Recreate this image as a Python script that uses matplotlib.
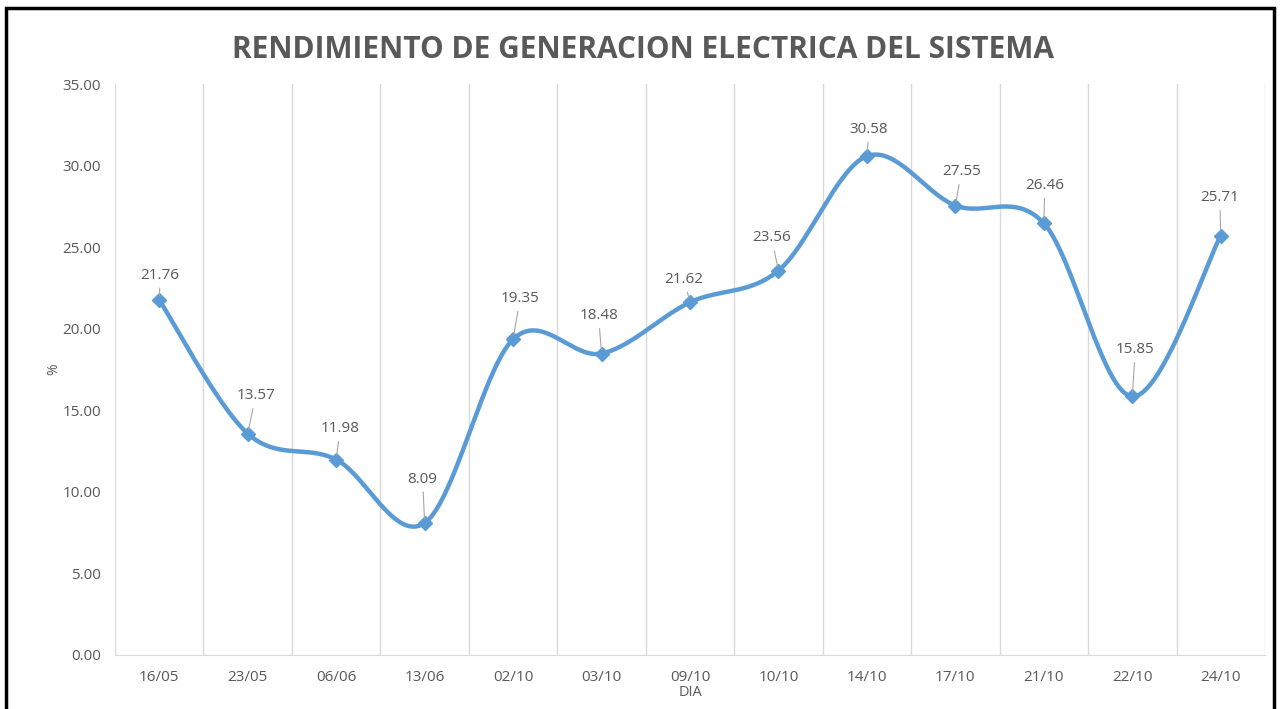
import numpy as np
import matplotlib
matplotlib.use("Agg")
import matplotlib.pyplot as plt
from matplotlib.patches import Rectangle

categories = ["16/05", "23/05", "06/06", "13/06", "02/10", "03/10", "09/10",
              "10/10", "14/10", "17/10", "21/10", "22/10", "24/10"]
values = [21.76, 13.57, 11.98, 8.09, 19.35, 18.48, 21.62,
          23.56, 30.58, 27.55, 26.46, 15.85, 25.71]
yticks = [0, 5, 10, 15, 20, 25, 30, 35]
title = "RENDIMIENTO DE GENERACION ELECTRICA DEL SISTEMA"
# label offsets in pixels (dx, dy) from each point (label centre)
label_offsets = [(1, 25), (8, 38), (4, 31), (-2, 44), (7, 41), (-3, 38), (-6, 23),
                 (-7, 33), (2, 27), (6, 34), (1, 38), (3, 47), (-1, 38)]

plt.rcParams['font.family'] = ['Open Sans', 'DejaVu Sans']

fig = plt.figure(figsize=(12.8, 7.09), dpi=100)
ax = fig.add_axes([115/1280, 1-655/709, 1150/1280, (655-84)/709])

x = np.arange(len(values))
y = np.array(values, dtype=float)

# Excel-style smoothed line (Catmull-Rom bezier segments)
def smooth(xp, yp, n=40):
    P = np.column_stack([xp, yp])
    Pext = np.vstack([P[0], P, P[-1]])
    out = []
    for i in range(len(P) - 1):
        p0, p1, p2, p3 = Pext[i], Pext[i+1], Pext[i+2], Pext[i+3]
        c1 = p1 + (p2 - p0) / 6.0
        c2 = p2 - (p3 - p1) / 6.0
        t = np.linspace(0, 1, n)[:, None]
        seg = ((1-t)**3)*p1 + 3*((1-t)**2)*t*c1 + 3*(1-t)*t**2*c2 + t**3*p2
        out.append(seg if i == 0 else seg[1:])
    s = np.vstack(out)
    return s[:, 0], s[:, 1]

sx, sy = smooth(x.astype(float), y)
line_color = "#5B9BD5"
ax.plot(sx, sy, color=line_color, lw=3.2, solid_capstyle='round', zorder=3)
ax.plot(x, y, linestyle='none', marker='D', markersize=7, color=line_color, zorder=4)

for xi, yi, (dx, dy) in zip(x, y, label_offsets):
    ax.annotate(f"{yi:.2f}", xy=(xi, yi), xytext=(dx, dy), textcoords='offset pixels',
                ha='center', va='center', fontsize=11, color="#595959",
                arrowprops=dict(arrowstyle='-', color='#a6a6a6', lw=0.8,
                                shrinkA=2, shrinkB=3),
                zorder=5)

ax.set_xlim(-0.5, len(values) - 0.5)
ax.set_ylim(0, 35)
ax.set_yticks(yticks)
ax.set_yticklabels([f"{v:.2f}" for v in yticks])
ax.set_xticks(x)
ax.set_xticklabels(categories)
ax.set_xticks(np.arange(len(values) + 1) - 0.5, minor=True)
ax.grid(True, which='minor', axis='x', color='#d9d9d9', lw=1)
ax.tick_params(which='both', length=0)
ax.tick_params(axis='x', pad=11, labelsize=11, labelcolor='#595959')
ax.tick_params(axis='y', pad=10, labelsize=11, labelcolor='#595959')
for s in ['top', 'right', 'left']:
    ax.spines[s].set_visible(False)
ax.spines['bottom'].set_color('#d9d9d9')

ax.set_xlabel("DIA", fontsize=10.5, color='#595959', labelpad=0)
ax.set_ylabel("%", fontsize=10, color='#595959', labelpad=1)

fig.text(643/1280, 1-50/709, title, ha='center', va='center', fontsize=21.5,
         fontweight='bold', color='#595959')

fig.add_artist(Rectangle((6/1280, -0.02), 1268/1280, 1.02 - 8/709,
                         transform=fig.transFigure, fill=False, edgecolor='black',
                         lw=2.5, zorder=10))

fig.savefig("out.png", dpi=100)
